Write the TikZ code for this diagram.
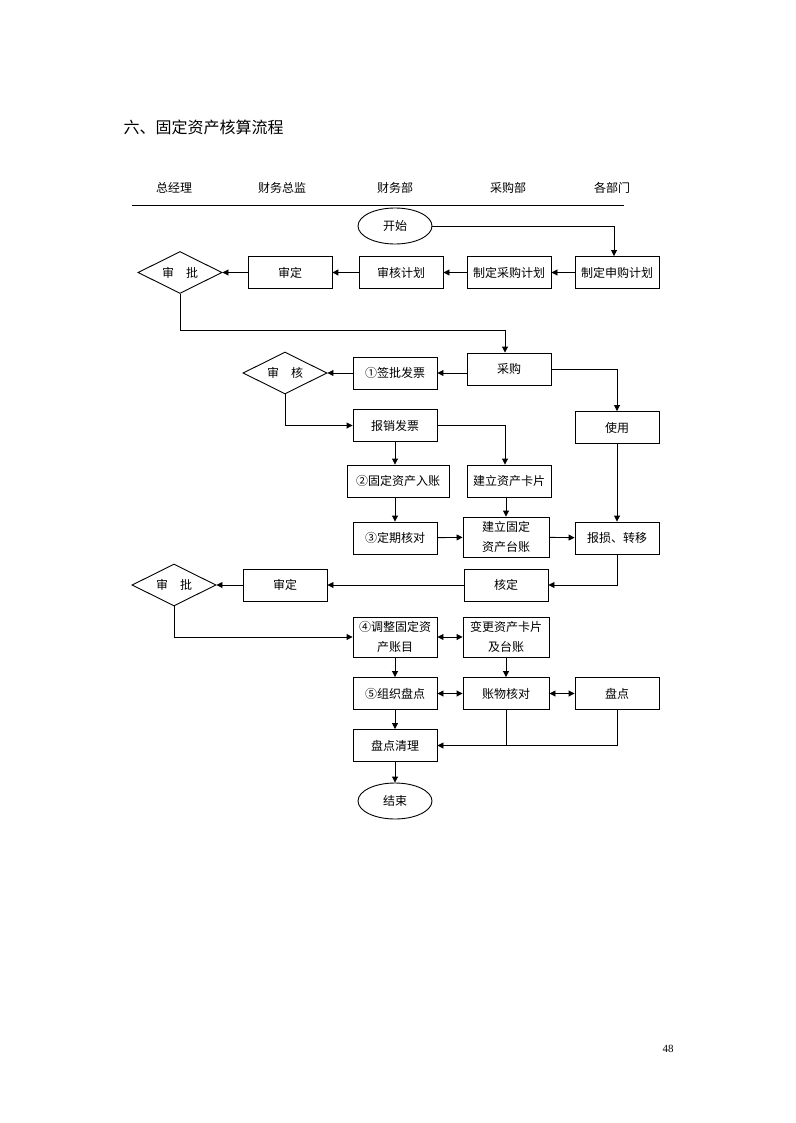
\documentclass[tikz,border=0pt]{standalone}
\usepackage{fontspec}
\setmainfont{Noto Sans CJK SC}
\newfontfamily\pagefont{Liberation Serif}
\usetikzlibrary{arrows.meta,shapes.geometric}

\tikzset{
	box/.style    = {draw, line width=0.9pt, minimum width=84pt, minimum height=32pt,
	                 inner sep=1pt, align=center, font=\fontsize{12}{20}\selectfont},
	term/.style   = {draw, ellipse, line width=0.9pt, minimum width=74pt, minimum height=36pt,
	                 inner sep=0pt, font=\fontsize{12}{14}\selectfont},
	check/.style  = {draw, diamond, aspect=2, line width=0.9pt, minimum width=84pt,
	                 minimum height=42pt, inner sep=0pt, font=\fontsize{12}{14}\selectfont},
	lane/.style   = {font=\fontsize{12}{14}\selectfont},
	flow/.style   = {-{Triangle[length=6pt,width=6pt]}, line width=0.9pt},
	twoway/.style = {{Triangle[length=6pt,width=6pt]}-{Triangle[length=6pt,width=6pt]}, line width=0.9pt},
}

\begin{document}
\begin{tikzpicture}[x=1pt, y=-1pt]
	\useasboundingbox (0,0) rectangle (795,1123);

	% title and lanes
	\node[anchor=west, font=\fontsize{16}{18}\selectfont] (title) at (120,127) {六、固定资产核算流程};
	\node[lane] (gm)   at (174,188) {总经理};
	\node[lane] (cfo)  at (282,188) {财务总监};
	\node[lane] (fin)  at (395,188) {财务部};
	\node[lane] (pur)  at (508,188) {采购部};
	\node[lane] (dept) at (612,188) {各部门};
	\draw[line width=0.9pt] (132,205) -- (624,205);

	% purchase plan
	\node[term]  (start) at (395,226)   {开始};
	\node[box]   (req)   at (617,272.5) {制定申购计划};
	\node[box]   (plan)  at (509,272.5) {制定采购计划};
	\node[box]   (rev)   at (401,272.5) {审核计划};
	\node[box]   (appr)  at (290,272.5) {审定};
	\node[check] (ok1)   at (180,272.5) {审　批};

	% purchase and booking
	\node[box]   (buy)    at (509,369)   {采购};
	\node[box]   (sign)   at (395,373)   {①签批发票};
	\node[check] (ok2)    at (285,373)   {审　核};
	\node[box]   (use)    at (617,427.5) {使用};
	\node[box]   (claim)  at (395,425.5) {报销发票};
	\node[box, minimum width=102pt] (entry) at (398,481) {②固定资产入账};
	\node[box]   (card)   at (509,481)   {建立资产卡片};
	\node[box]   (check3) at (395,538)   {③定期核对};
	\node[box, minimum width=86pt, minimum height=40pt] (ledger) at (506,537) {建立固定\\资产台账};
	\node[box]   (scrap)  at (617,538)   {报损、转移};

	% adjustment
	\node[box]   (verify) at (506,585)   {核定};
	\node[box]   (appr2)  at (285,585)   {审定};
	\node[check] (ok3)    at (174,585)   {审　批};
	\node[box, minimum height=40pt] (adjust) at (395,637) {④调整固定资\\产账目};
	\node[box, minimum width=86pt, minimum height=40pt] (change) at (506,637) {变更资产卡片\\及台账};

	% stock taking
	\node[box]  (count) at (395,693.5) {⑤组织盘点};
	\node[box, minimum width=86pt] (match) at (506,693.5) {账物核对};
	\node[box]  (stock) at (617,693.5) {盘点};
	\node[box]  (clear) at (395,745.5) {盘点清理};
	\node[term] (stop)  at (395,801)   {结束};

	\node[font=\pagefont\fontsize{11}{12}\selectfont] (page) at (668,1049) {48};

	% connectors
	\draw[flow] (start.east) -| ([xshift=-3pt]req.north);
	\draw[flow] (req) -- (plan);
	\draw[flow] (plan) -- (rev);
	\draw[flow, line width=1.8pt] (rev) -- (appr);
	\draw[flow] (appr) -- (ok1);
	\draw[flow] (ok1.south) -- ++(0,36) -| ([xshift=-4pt]buy.north);
	\draw[flow] (buy.west |- sign.east) -- (sign.east);
	\draw[flow] (sign) -- (ok2);
	\draw[flow] (buy.east) -| (use.north);
	\draw[flow] (ok2.south) |- (claim.west);
	\draw[flow] (claim.east) -| ([xshift=-4pt]card.north);
	\draw[flow] (claim.south) -- (claim.south |- entry.north);
	\draw[flow] (check3.north |- entry.south) -- (check3.north);
	\draw[flow] (ledger.north |- card.south) -- (ledger.north);
	\draw[flow] (check3) -- (ledger);
	\draw[flow] (ledger) -- (scrap);
	\draw[flow] (use) -- (scrap);
	\draw[flow] (scrap.south) |- (verify.east);
	\draw[flow] (verify) -- (appr2);
	\draw[flow] (appr2) -- (ok3);
	\draw[flow] (ok3.south) |- (adjust.west);
	\draw[twoway] (adjust) -- (change);
	\draw[flow] (adjust) -- (count);
	\draw[flow] (change) -- (match);
	\draw[twoway] (count) -- (match);
	\draw[twoway] (match) -- (stock);
	\draw[flow] (count) -- (clear);
	\draw[line width=0.9pt] (match.south) -- (match.south |- clear.east);
	\draw[flow] (stock.south) |- (clear.east);
	\draw[flow] (clear) -- (stop);
\end{tikzpicture}
\end{document}
